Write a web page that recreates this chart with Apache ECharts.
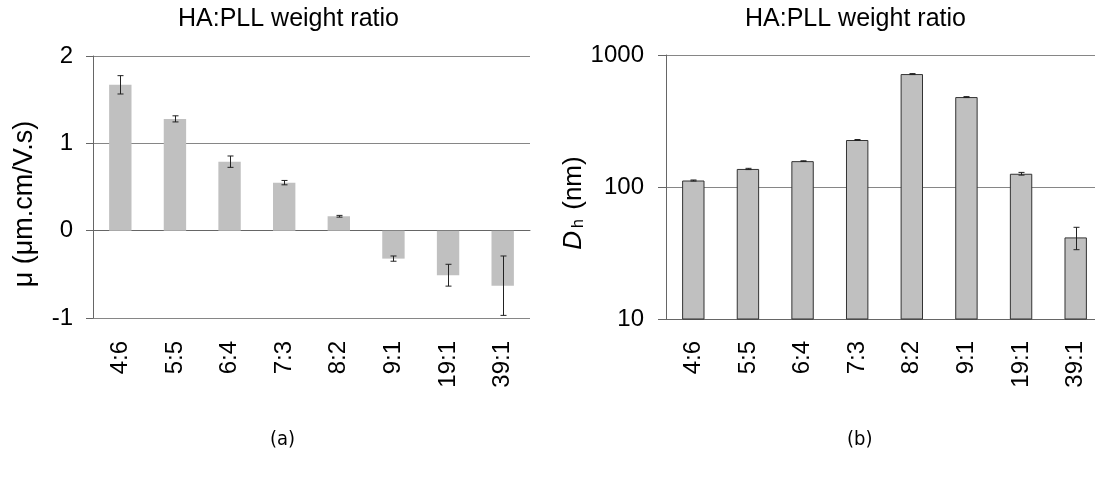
<!DOCTYPE html>
<html>
<head>
<meta charset="utf-8">
<title>HA:PLL weight ratio</title>
<script src="https://cdn.jsdelivr.net/npm/echarts@6/dist/echarts.min.js"></script>
<style>
  html, body { margin: 0; padding: 0; background: #fff; }
  #chart { width: 1095px; height: 478px; }
</style>
</head>
<body>
<div id="chart"></div>
<script>
// HA:PLL weight ratios (x categories)
const ratios = ['4:6', '5:5', '6:4', '7:3', '8:2', '9:1', '19:1', '39:1']
// (a) electrophoretic mobility, µm.cm/V.s
const mobility = [1.67, 1.28, 0.79, 0.55, 0.165, -0.32, -0.51, -0.63]
const mobilityErr = [0.105, 0.035, 0.065, 0.025, 0.01, 0.03, 0.125, 0.34]
// (b) hydrodynamic diameter, nm
const diameter = [112, 137, 157, 227, 717, 480, 126, 41.5]
const diameterErr = [1, 1.5, 1, 2, 6, 4, 3, 8]
// tick labels
const mobilityTicks = [-1, 0, 1, 2]
const diameterTicks = [10, 100, 1000]

const font = '"Liberation Sans", Arial, sans-serif'
const narrowFont = '"Liberation Sans Narrow", "DejaVu Sans Condensed", sans-serif'
const axisGrey = '#666'
const gridGrey = '#868686'

function errorRows(vals, errs) {
  return vals.map((v, i) => [i, v - errs[i], v + errs[i]])
}

function errorBar(params, api) {
  const x = api.value(0)
  const lo = api.coord([x, api.value(1)])
  const hi = api.coord([x, api.value(2)])
  const cx = Math.round(lo[0]) + 0.5
  const cap = 3
  const style = { stroke: '#222', lineWidth: 1 }
  return {
    type: 'group',
    children: [
      { type: 'line', shape: { x1: cx, y1: lo[1], x2: cx, y2: hi[1] }, style: style },
      { type: 'line', shape: { x1: cx - cap, y1: lo[1], x2: cx + cap, y2: lo[1] }, style: style },
      { type: 'line', shape: { x1: cx - cap, y1: hi[1], x2: cx + cap, y2: hi[1] }, style: style }
    ]
  }
}

const labelStyle = { color: '#000', fontSize: 24, fontFamily: font }

const chart = echarts.init(document.getElementById('chart'), null, { renderer: 'canvas' })

chart.setOption({
  animation: false,
  backgroundColor: '#fff',
  title: [
    { text: 'HA:PLL weight ratio', left: 178, top: 7, padding: 0,
      textStyle: { fontSize: 25, fontWeight: 'normal', color: '#000', fontFamily: font } },
    { text: 'HA:PLL weight ratio', left: 745, top: 7, padding: 0,
      textStyle: { fontSize: 25, fontWeight: 'normal', color: '#000', fontFamily: font } },
    { text: '(a)', left: 270, top: 430, padding: 0,
      textStyle: { fontSize: 20, fontWeight: 'normal', color: '#000', fontFamily: narrowFont } },
    { text: '(b)', left: 847, top: 430, padding: 0,
      textStyle: { fontSize: 20, fontWeight: 'normal', color: '#000', fontFamily: narrowFont } }
  ],
  grid: [
    { left: 93, top: 56, width: 437, height: 262, outerBoundsMode: 'none' },
    { left: 666, top: 55, width: 437, height: 264, outerBoundsMode: 'none' }
  ],
  xAxis: [
    {
      // zero line with the category ticks
      gridIndex: 0, type: 'category', data: ratios, position: 'bottom',
      axisLine: { onZero: true, lineStyle: { color: axisGrey } },
      axisTick: { length: 7, lineStyle: { color: axisGrey } },
      axisLabel: { show: false },
      splitLine: { show: false }
    },
    {
      // labels below the plot
      gridIndex: 0, type: 'category', data: ratios, position: 'bottom',
      axisLine: { show: false, onZero: false },
      axisTick: { show: false },
      axisLabel: Object.assign({ rotate: 90, margin: 23 }, labelStyle),
      splitLine: { show: false }
    },
    {
      gridIndex: 1, type: 'category', data: ratios, position: 'bottom',
      axisLine: { lineStyle: { color: axisGrey } },
      axisTick: { length: 7, lineStyle: { color: axisGrey } },
      axisLabel: Object.assign({ rotate: 90, margin: 22 }, labelStyle),
      splitLine: { show: false }
    }
  ],
  yAxis: [
    {
      gridIndex: 0, type: 'value',
      min: mobilityTicks[0], max: mobilityTicks[mobilityTicks.length - 1], interval: 1,
      name: 'μ (μm.cm/V.s)', nameLocation: 'middle', nameGap: 55,
      nameTextStyle: { color: '#000', fontSize: 27, fontFamily: font, padding: [0, 34, 0, 0] },
      axisLine: { show: true, lineStyle: { color: axisGrey } },
      axisTick: { show: true, length: 7, lineStyle: { color: axisGrey } },
      axisLabel: Object.assign({ margin: 20 }, labelStyle),
      splitLine: { show: true, lineStyle: { color: gridGrey } }
    },
    {
      gridIndex: 1, type: 'log', logBase: 10,
      min: diameterTicks[0], max: diameterTicks[diameterTicks.length - 1],
      name: '{i|D}{s|h} (nm)', nameLocation: 'middle', nameGap: 71,
      nameTextStyle: {
        color: '#000', fontSize: 26, fontFamily: font, padding: [0, 32, 0, 0],
        rich: {
          i: { fontStyle: 'italic', fontSize: 26, fontFamily: font, color: '#000' },
          s: { fontSize: 16, fontFamily: font, color: '#000', verticalAlign: 'bottom', padding: [0, 2, 0, 3] }
        }
      },
      axisLine: { show: true, lineStyle: { color: axisGrey } },
      axisTick: { show: true, length: 8, lineStyle: { color: axisGrey } },
      axisLabel: Object.assign({ margin: 22, formatter: v => String(Math.round(v)) }, labelStyle),
      splitLine: { show: true, lineStyle: { color: gridGrey } }
    }
  ],
  series: [
    {
      type: 'bar', xAxisIndex: 0, yAxisIndex: 0,
      data: mobility, barWidth: '41%',
      itemStyle: { color: '#c0c0c0' }
    },
    {
      type: 'custom', xAxisIndex: 0, yAxisIndex: 0, z: 5,
      renderItem: errorBar,
      encode: { x: 0, y: [1, 2] },
      data: errorRows(mobility, mobilityErr)
    },
    {
      type: 'bar', xAxisIndex: 2, yAxisIndex: 1,
      data: diameter, barWidth: '41%',
      itemStyle: { color: '#c0c0c0', borderColor: '#333', borderWidth: 1 }
    },
    {
      type: 'custom', xAxisIndex: 2, yAxisIndex: 1, z: 5,
      renderItem: errorBar,
      encode: { x: 0, y: [1, 2] },
      data: errorRows(diameter, diameterErr)
    }
  ]
})
</script>
</body>
</html>
